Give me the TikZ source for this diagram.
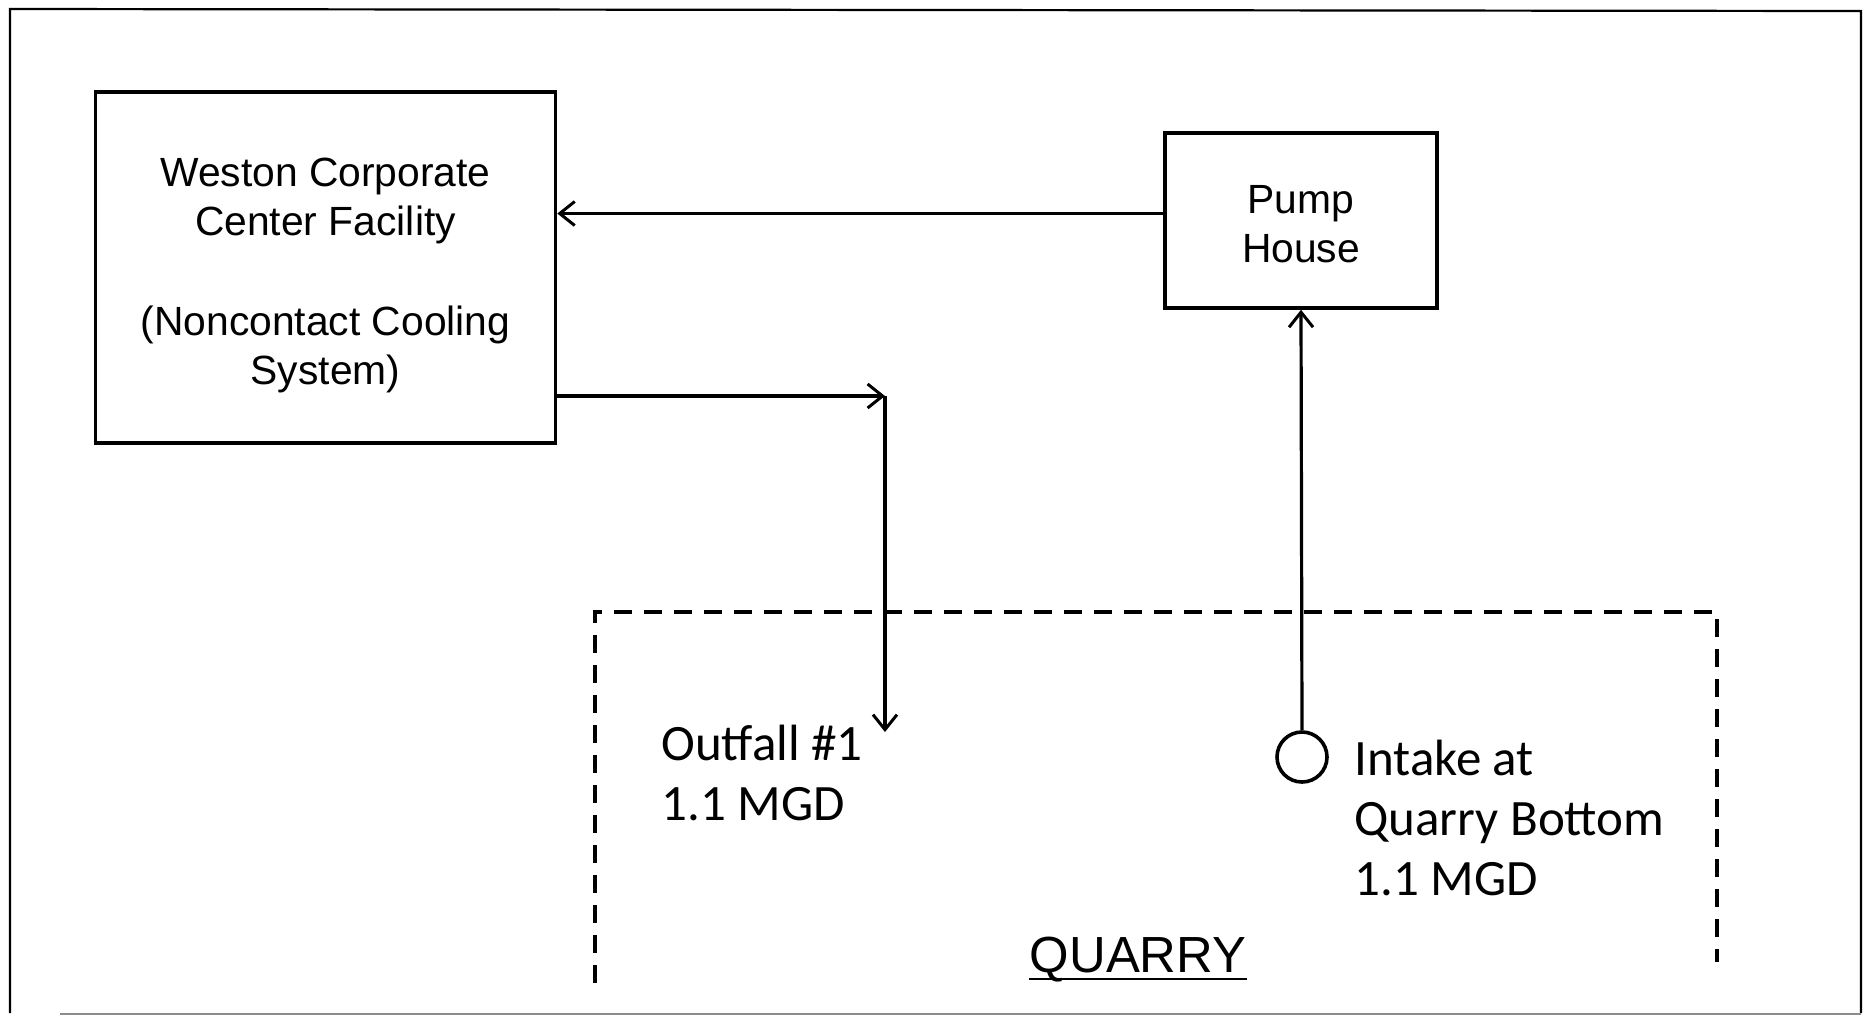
\documentclass[tikz,border=0pt]{standalone}
\usepackage{fontspec}
\setmainfont{Liberation Sans}
\newfontfamily\calibri{Carlito}
\usetikzlibrary{arrows.meta}
\begin{document}
\begin{tikzpicture}[x=0.5pt,y=-0.5pt,
  box/.style={draw, line width=1.8pt, inner sep=0pt},
  boxtext/.style={inner sep=0pt, align=center, font=\fontsize{20.4}{24.3}\selectfont},
  arr/.style={line width=1.6pt, -{Straight Barb[length=7.5pt,width=12pt,line width=1.5pt]}},
  qlabel/.style={font=\calibri\fontsize{25.5}{30}\selectfont, anchor=base west, inner sep=0pt},
  quarryline/.style={line width=1.9pt, dash pattern=on 9pt off 6pt}
]
\useasboundingbox (0,0) rectangle (1869,1019);
\fill[white] (0,0) rectangle (1869,1019);
% outer frame
\draw[line width=1.1pt] (10,1013) -- (10,9) -- (1861,11) -- (1861,1013);
\draw[black!45, line width=1.1pt] (60,1014) -- (1861,1014);

% boxes
\node[box, minimum width=230pt, minimum height=175.5pt] (weston) at (325.5,267.5) {};
\node[boxtext] (westontext) at ([yshift=-3.9pt]weston.center)
  {Weston Corporate\\Center Facility\\[26pt](Noncontact Cooling\\System)};
\node[box, minimum width=136pt, minimum height=87.5pt] (pump) at (1301,220.5) {};
\node[boxtext] (pumptext) at ([yshift=-1.8pt]pump.center) {Pump\\House};

% pump -> weston
\coordinate (p1) at ([yshift=3.5pt]pump.west);
\draw[arr] (p1) -- (p1 -| weston.east);

% weston -> outfall
\coordinate (bend) at (885,396);
\coordinate (outfall) at (885,732);
\draw[arr] (bend -| weston.east) -- (bend);
\draw[arr] (bend) -- (outfall);

% intake -> pump
\node[draw, circle, line width=1.8pt, minimum size=25pt, inner sep=0pt] (intake) at (1302,757) {};
\draw[arr] (intake.north) -- (pump.south);

% quarry outline
\draw[quarryline] (595,983) -- (595,612) -- (1717,612) -- (1717,962);

% labels
\node[qlabel] (out1) at (661,760) {Outfall \#1};
\node[qlabel] (out2) at (661,820) {1.1 MGD};
\node[qlabel] (in1) at (1354,775) {Intake at};
\node[qlabel] (in2) at (1354,835) {Quarry Bottom};
\node[qlabel] (in3) at (1354,895) {1.1 MGD};
\node[font=\fontsize{25.4}{30}\selectfont, anchor=base, inner sep=0pt] (quarry) at (1138,972) {QUARRY};
\draw[line width=1.3pt] ([yshift=-3.5pt]quarry.base west) -- ([yshift=-3.5pt]quarry.base east);
\end{tikzpicture}
\end{document}
